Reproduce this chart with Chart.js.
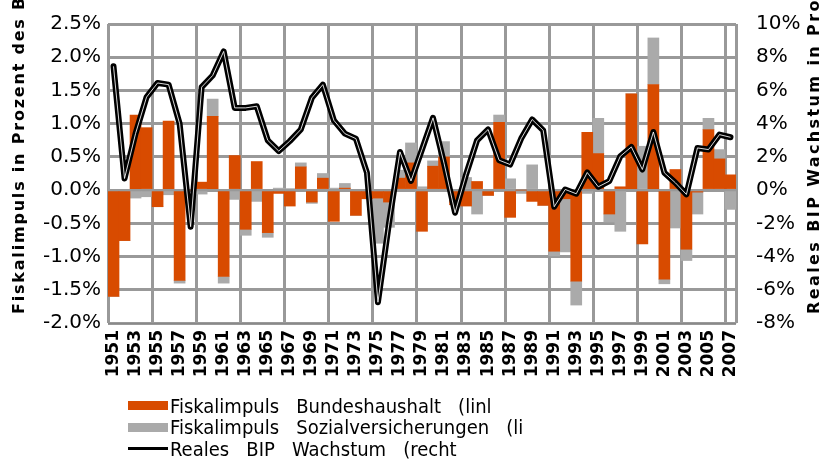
<!DOCTYPE html>
<html>
<head>
<meta charset="utf-8">
<script src="https://cdn.jsdelivr.net/npm/chart.js"></script>
<style>
  body { margin: 0; background: #fff; }
  #wrap { position: relative; width: 820px; height: 459px; }
  #fiskalChart { position: relative; z-index: 1; }
  #vgrid { position: absolute; left: 0; top: 0; width: 820px; height: 459px; z-index: 0; }
  .vline { position: absolute; width: 3px; background: #999999; }
  #legend { position: absolute; left: 128px; top: 395px; z-index: 2; font-family: "Liberation Sans Narrow", "DejaVu Sans Condensed", sans-serif; font-size: 20px; color: #000; }
  .row { display: flex; align-items: center; height: 21.5px; white-space: pre; }
  .swatch { width: 40px; margin-right: 2px; }
</style>
</head>
<body>
<div id="wrap">
  <div id="vgrid"></div>
  <canvas id="fiskalChart"></canvas>
  <div id="legend"></div>
</div>
<script>
const years = ["1951","1952","1953","1954","1955","1956","1957","1958","1959","1960",
  "1961","1962","1963","1964","1965","1966","1967","1968","1969","1970",
  "1971","1972","1973","1974","1975","1976","1977","1978","1979","1980",
  "1981","1982","1983","1984","1985","1986","1987","1988","1989","1990",
  "1991","1992","1993","1994","1995","1996","1997","1998","1999","2000",
  "2001","2002","2003","2004","2005","2006","2007"];

// Fiskalimpuls Bundeshaushalt, % des BIP (linke Achse)
const bundeshaushalt = [-1.60, -0.76, 1.13, 0.94, -0.25, 1.04, -1.36, 0.00, 0.12, 1.11,
  -1.30, 0.52, -0.59, 0.43, -0.64, -0.05, -0.24, 0.35, -0.18, 0.18,
  -0.47, 0.03, -0.38, -0.13, -0.12, -0.18, 0.18, 0.41, -0.62, 0.36,
  0.50, -0.22, -0.24, 0.13, -0.08, 1.02, -0.41, 0.00, -0.17, -0.23,
  -0.92, -0.13, -1.37, 0.87, 0.55, -0.36, 0.05, 1.45, -0.81, 1.59,
  -1.34, 0.31, -0.89, -0.03, 0.91, 0.47, 0.23];

// Fiskalimpuls Sozialversicherungen, % des BIP (linke Achse)
const sozialversicherungen = [0.00, 0.00, -0.12, -0.10, 0.00, -0.07, -0.04, 0.00, -0.06, 0.26,
  -0.10, -0.14, -0.09, -0.17, -0.07, 0.03, 0.02, 0.06, -0.02, 0.07,
  0.03, 0.07, 0.00, 0.00, -0.68, -0.38, 0.12, 0.30, 0.05, 0.08,
  0.23, 0.00, 0.19, -0.36, 0.00, 0.11, 0.17, -0.05, 0.38, 0.00,
  -0.07, -0.80, -0.36, -0.05, 0.53, -0.12, -0.62, 0.00, 0.66, 0.70,
  -0.07, -0.57, -0.17, -0.33, 0.17, 0.14, -0.29];

// Reales BIP Wachstum, % (rechte Achse)
const bipWachstum = [7.45, 0.70, 3.40, 5.60, 6.45, 6.35, 4.00, -2.20, 6.20, 6.90,
  8.35, 4.95, 4.95, 5.05, 3.00, 2.35, 2.95, 3.65, 5.55, 6.35,
  4.20, 3.40, 3.10, 1.05, -6.75, -2.00, 2.30, 0.55, 2.45, 4.35,
  1.62, -1.36, 0.94, 3.00, 3.65, 1.80, 1.54, 3.10, 4.25, 3.60,
  -1.00, 0.04, -0.22, 1.06, 0.20, 0.54, 2.04, 2.60, 1.24, 3.50,
  1.04, 0.44, -0.26, 2.54, 2.44, 3.34, 3.18];

const leftTickLabels = ["-2.0%", "-1.5%", "-1.0%", "-0.5%", "0.0%", "0.5%", "1.0%", "1.5%", "2.0%", "2.5%"];
const rightTickLabels = ["-8%", "-6%", "-4%", "-2%", "0%", "2%", "4%", "6%", "8%", "10%"];

const seriesNames = [
  "Fiskalimpuls   Bundeshaushalt   (linl",
  "Fiskalimpuls   Sozialversicherungen   (li",
  "Reales   BIP   Wachstum   (recht"
];
const leftTitle = "Fiskalimpuls in Prozent des BIP";
const rightTitle = "Reales BIP Wachstum in Prozent";

const ORANGE = "#d84b00";
const GRAY = "#aaaaaa";
const GRID = "#999999";

// vertical grid every 4 categories plus the frame, as divs behind the transparent canvas
// (grey lines drawn on the canvas under the bars never showed up in the renderer)
const verticalGridPlugin = {
  id: "verticalGrid",
  afterRender(chart) {
    const { chartArea, scales: { x } } = chart;
    const half = (x.getPixelForValue(1) - x.getPixelForValue(0)) / 2;
    const positions = [];
    for (let i = 0; i < years.length; i += 4) positions.push(Math.round(x.getPixelForValue(i) - half));
    positions.push(Math.round(chartArea.right));
    const grid = document.getElementById("vgrid");
    grid.innerHTML = "";
    positions.forEach((px) => {
      grid.insertAdjacentHTML("beforeend",
        `<div class="vline" style="left:${px - 1}px;top:${chartArea.top}px;height:${chartArea.bottom - chartArea.top}px"></div>`);
    });
  }
};

// rotated axis titles, both reading bottom-to-top like the original
const axisTitlePlugin = {
  id: "axisTitles",
  afterDraw(chart) {
    const ctx = chart.ctx;
    ctx.save();
    ctx.font = 'bold 16px "DejaVu Sans"';
    ctx.fillStyle = "#000";
    ctx.textAlign = "left";
    ctx.textBaseline = "alphabetic";
    [[24, leftTitle, "1.8px"], [819, rightTitle, "2.4px"]].forEach(([x, text, spacing]) => {
      ctx.save();
      ctx.letterSpacing = spacing;
      ctx.translate(x, 314);
      ctx.rotate(-Math.PI / 2);
      ctx.fillText(text, 0, 0);
      ctx.restore();
    });
    ctx.restore();
  }
};

function buildLegend() {
  const legend = document.getElementById("legend");
  const swatches = [
    `<div class="swatch" style="height:9px;background:${ORANGE}"></div>`,
    `<div class="swatch" style="height:9px;background:${GRAY}"></div>`,
    `<div class="swatch" style="height:3px;background:#000"></div>`
  ];
  seriesNames.forEach((name, i) => {
    legend.insertAdjacentHTML("beforeend", `<div class="row">${swatches[i]}<span>${name}</span></div>`);
  });
}

function renderChart() {
  const ctx = document.getElementById("fiskalChart").getContext("2d");
  new Chart(ctx, {
    type: "bar",
    data: {
      labels: years,
      datasets: [
        { label: seriesNames[0], data: bundeshaushalt, backgroundColor: ORANGE, yAxisID: "y", order: 2,
          barPercentage: 1, categoryPercentage: 1 },
        { label: seriesNames[1], data: sozialversicherungen, backgroundColor: GRAY, yAxisID: "y", order: 3,
          barPercentage: 1, categoryPercentage: 1 },
        { type: "line", label: seriesNames[2], data: bipWachstum, yAxisID: "y1", order: 1,
          borderColor: "#000", borderWidth: 6, pointRadius: 0, tension: 0, fill: false,
          borderJoinStyle: "round", borderCapStyle: "round" },
        { type: "line", label: "", data: bipWachstum, yAxisID: "y1", order: 0,
          borderColor: "rgba(255,255,255,0.85)", borderWidth: 1, pointRadius: 0, tension: 0, fill: false,
          borderJoinStyle: "round" }
      ]
    },
    options: {
      responsive: true,
      maintainAspectRatio: false,
      animation: false,
      layout: { padding: { top: 24, bottom: 71, left: 0, right: 0 } },
      plugins: { legend: { display: false }, tooltip: { enabled: false } },
      scales: {
        x: {
          stacked: true,
          afterFit: (scale) => { scale.height = 65; },
          grid: { display: false, drawTicks: false },
          ticks: {
            autoSkip: false, minRotation: 90, maxRotation: 90, padding: 7, color: "#000",
            font: { family: "DejaVu Sans", size: 17, weight: "bold" },
            callback: (value, index) => (index % 2 === 0 ? years[index] : "")
          }
        },
        y: {
          stacked: true, position: "left", min: -2, max: 2.5,
          afterFit: (scale) => { scale.width = 108; scale.paddingTop = 0; },
          grid: { color: GRID, lineWidth: 3, drawTicks: false },
          border: { display: false },
          ticks: { stepSize: 0.5, padding: 7, color: "#000", font: { family: "DejaVu Sans", size: 20 },
            callback: (value, index) => leftTickLabels[index] }
        },
        y1: {
          stacked: false, position: "right", min: -8, max: 10,
          afterFit: (scale) => { scale.width = 84; scale.paddingTop = 0; },
          grid: { display: false, drawTicks: false },
          border: { display: false },
          ticks: { stepSize: 2, padding: 20, color: "#000", font: { family: "DejaVu Sans", size: 20 },
            callback: (value, index) => rightTickLabels[index] }
        }
      }
    },
    plugins: [verticalGridPlugin, axisTitlePlugin]
  });
}

document.addEventListener("DOMContentLoaded", () => {
  buildLegend();
  renderChart();
});
</script>
</body>
</html>
